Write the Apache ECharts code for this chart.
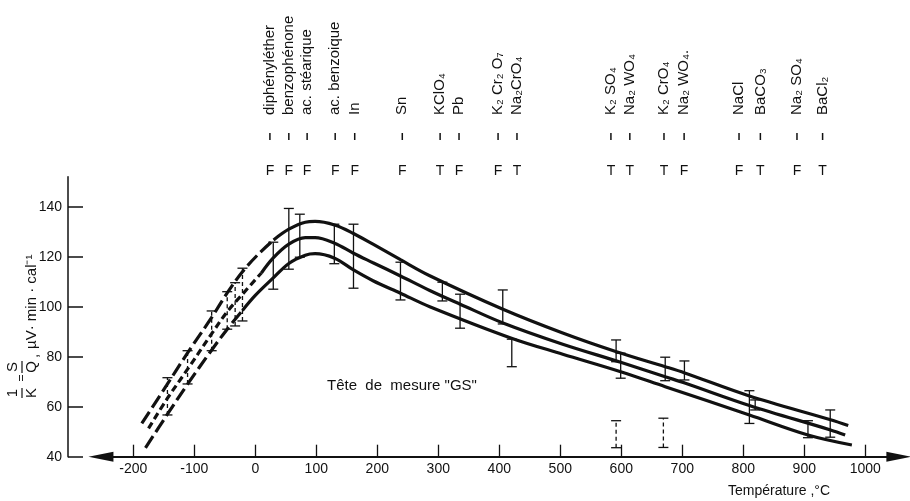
<!DOCTYPE html>
<html>
<head>
<meta charset="utf-8">
<script src="https://cdn.jsdelivr.net/npm/echarts@6/dist/echarts.min.js"></script>
<style>
    html, body { margin: 0; padding: 0; background: #fff; }
    #chart { width: 910px; height: 501px; }
</style>
</head>
<body>
<div id="chart"></div>
<script>
// axis ticks
const xTicks = [-200, -100, 0, 100, 200, 300, 400, 500, 600, 700, 800, 900, 1000];
const yTicks = [40, 60, 80, 100, 120, 140];

// the three calibration curves, dashed part (low temperature) and solid part
const upperDashed = [[-186, 53.3], [-145, 68.7], [-111, 81.5], [-72, 95.5], [-46, 105.5], [-21, 114], [5, 121], [30, 126.7]];
const upperSolid = [[30, 126.7], [55, 131], [82, 133.8], [98, 134.1], [130, 132.7], [161, 129.3], [193, 125], [238, 118.8],
    [286, 112.4], [406, 99], [504, 89.5], [592, 82], [672, 76], [704, 73.5], [810, 64.3], [943, 54.8], [972, 52.5]];
const middleDashed = [[-175, 51.3], [-145, 63], [-111, 75], [-72, 89], [-46, 98], [-21, 105], [10, 113.5]];
const middleSolid = [[10, 113.5], [29.5, 119.5], [55, 125], [82, 127.6], [98, 127.6], [130, 125.4], [161, 121.4], [193, 117.6],
    [238, 112.3], [286, 106.5], [336, 101], [406, 93.5], [504, 85], [599, 77.8], [672, 72], [704, 69.5],
    [810, 60.5], [943, 50.7], [967, 48.7]];
const lowerDashed = [[-180, 43.5], [-144, 57], [-111, 69], [-72, 82.5], [-46, 91], [-21, 98.5]];
const lowerSolid = [[-21, 98.5], [0, 104.5], [29.5, 111.5], [55, 117.3], [82, 120.6], [98, 121.2], [130, 119.4], [161, 114.7],
    [193, 110.4], [238, 105.4], [286, 100], [420, 87.4], [504, 81], [599, 74], [672, 68], [810, 56.7],
    [906, 48.7], [978, 44.7]];

// error bars [temperature, low, high]
const barsSolid = [[29.5, 107, 125.8], [55, 115, 139.3], [73, 119.8, 137], [129.6, 117.2, 133], [161, 107.4, 133],
    [238, 102.7, 117.8], [306.7, 102.3, 109.8], [335.7, 91.4, 105], [405.7, 93.1, 106.7], [420.5, 76, 87],
    [591.5, 78, 86.7], [599, 71.4, 81.4], [672, 70.4, 79.8], [703.5, 70.7, 78.3], [810, 53.3, 66.4],
    [819.5, 58.7, 62.7], [906, 47.6, 54.4], [942.5, 47.8, 58.7]];
const barsDashed = [[-144, 56.7, 71.6], [-111, 69.1, 82.4], [-71.5, 82.4, 98.3], [-46, 91, 106], [-33, 92.3, 109.6],
    [-21, 94.3, 115.4], [591.5, 43.6, 54.4], [669, 43.7, 55.4]];

// reference substances on top
const substNames = ['diphényléther', 'benzophénone', 'ac. stéarique', 'ac. benzoique', 'In', 'Sn', 'KClO₄', 'Pb',
    'K₂ Cr₂ O₇', 'Na₂CrO₄', 'K₂ SO₄', 'Na₂ WO₄', 'K₂ CrO₄', 'Na₂ WO₄.', 'NaCl', 'BaCO₃', 'Na₂ SO₄', 'BaCl₂'];
const substTemps = [24, 55, 85, 131, 163, 241, 303, 334, 398, 429, 583, 614, 670, 703, 793, 828, 888, 930];
const substCodes = ['F', 'F', 'F', 'F', 'F', 'F', 'T', 'F', 'F', 'T', 'T', 'T', 'T', 'F', 'F', 'T', 'F', 'T'];

// x axis arrow ends
const xArrow = [-253, 1055];

const FONT = '"Liberation Sans", sans-serif';
const INK = '#111';

function curve(data, dash) {
    return {
        type: 'line',
        data: data,
        smooth: 0.35,
        symbol: 'none',
        silent: true,
        lineStyle: { color: INK, width: 3.2, type: dash ? dash : 'solid' }
    };
}

function errorBars(data, dashed) {
    return {
        type: 'custom',
        data: data,
        silent: true,
        renderItem: function (params, api) {
            const lo = api.coord([api.value(0), api.value(1)]);
            const hi = api.coord([api.value(0), api.value(2)]);
            const st = { stroke: INK, lineWidth: 1.3, lineDash: dashed ? [4, 3] : null };
            const cap = { stroke: INK, lineWidth: 1.3 };
            return {
                type: 'group',
                children: [
                    { type: 'line', shape: { x1: lo[0], y1: lo[1], x2: hi[0], y2: hi[1] }, style: st },
                    { type: 'line', shape: { x1: lo[0] - 5, y1: lo[1], x2: lo[0] + 5, y2: lo[1] }, style: cap },
                    { type: 'line', shape: { x1: hi[0] - 5, y1: hi[1], x2: hi[0] + 5, y2: hi[1] }, style: cap }
                ]
            };
        }
    };
}

// names, dashes and F/T letters above the plot
const topLabels = {
    type: 'custom',
    data: substTemps.map(function (t) { return [t, 100]; }),
    silent: true,
    clip: false,
    renderItem: function (params, api) {
        const x = api.coord([api.value(0), 100])[0];
        const i = params.dataIndex;
        return {
            type: 'group',
            children: [
                { type: 'line', shape: { x1: x, y1: 133, x2: x, y2: 140 }, style: { stroke: INK, lineWidth: 1.5 } },
                {
                    type: 'text', x: x, y: 115, rotation: Math.PI / 2,
                    style: { text: substNames[i], fill: INK, font: '15px ' + FONT, textAlign: 'left', textVerticalAlign: 'middle' }
                },
                {
                    type: 'text', x: x, y: 171,
                    style: { text: substCodes[i], fill: INK, font: '14px ' + FONT, textAlign: 'center', textVerticalAlign: 'middle' }
                }
            ]
        };
    }
};

const axisLineSeries = {
    type: 'line',
    data: [],
    silent: true,
    markLine: {
        silent: true,
        symbol: ['triangle', 'triangle'],
        symbolSize: [10, 25],
        label: { show: false },
        lineStyle: { color: INK, width: 2, type: 'solid' },
        emphasis: { disabled: true },
        data: [[{ coord: [xArrow[0], 40] }, { coord: [xArrow[1], 40] }]]
    }
};

// y axis title drawn as a rotated group so the fractions can be stacked
const yTitle = {
    type: 'group',
    x: 22,
    y: 393,
    rotation: Math.PI / 2,
    children: [
        { type: 'text', x: 0, y: -9, style: { text: '1', font: '15px ' + FONT, fill: INK, textAlign: 'center', textVerticalAlign: 'middle' } },
        { type: 'line', shape: { x1: -5, y1: 0, x2: 5, y2: 0 }, style: { stroke: INK, lineWidth: 1.2 } },
        { type: 'text', x: 0, y: 10, style: { text: 'K', font: '15px ' + FONT, fill: INK, textAlign: 'center', textVerticalAlign: 'middle' } },
        { type: 'text', x: 15, y: 0, style: { text: '=', font: '12px ' + FONT, fill: INK, textAlign: 'center', textVerticalAlign: 'middle' } },
        { type: 'text', x: 26, y: -9, style: { text: 'S', font: '15px ' + FONT, fill: INK, textAlign: 'center', textVerticalAlign: 'middle' } },
        { type: 'line', shape: { x1: 20, y1: 0, x2: 32, y2: 0 }, style: { stroke: INK, lineWidth: 1.2 } },
        { type: 'text', x: 26, y: 10, style: { text: 'Q', font: '15px ' + FONT, fill: INK, textAlign: 'center', textVerticalAlign: 'middle' } },
        { type: 'text', x: 37, y: 12, style: { text: ',', font: '15px ' + FONT, fill: INK, textAlign: 'center', textVerticalAlign: 'middle' } },
        { type: 'text', x: 44, y: 10, style: { text: 'µV· min · cal⁻¹', font: '15px ' + FONT, fill: INK, textAlign: 'left', textVerticalAlign: 'middle' } }
    ]
};

const chart = echarts.init(document.getElementById('chart'));
chart.setOption({
    animation: false,
    backgroundColor: '#fff',
    grid: { left: 68, right: 2, top: 176.7, bottom: 44.3 },
    xAxis: {
        type: 'value',
        min: -307,
        max: 1070,
        splitLine: { show: false },
        axisLine: { show: false },
        axisTick: { show: true, inside: true, length: 12, customValues: xTicks, lineStyle: { color: INK, width: 1.3 } },
        axisLabel: {
            customValues: xTicks, color: INK, fontFamily: 'Liberation Sans', fontSize: 14, margin: 5,
            formatter: function (v) { return String(v); }
        }
    },
    yAxis: {
        type: 'value',
        min: 40,
        max: 152,
        splitLine: { show: false },
        axisLine: { show: true, onZero: false, lineStyle: { color: INK, width: 1.5 } },
        axisTick: { show: true, inside: true, length: 15, customValues: yTicks, lineStyle: { color: INK, width: 1.5 } },
        axisLabel: { customValues: yTicks, color: INK, fontFamily: 'Liberation Sans', fontSize: 14, margin: 6 }
    },
    graphic: [
        yTitle,
        { type: 'text', left: 327, top: 378, style: { text: 'Tête  de  mesure "GS"', font: '15px ' + FONT, fill: INK } },
        { type: 'text', left: 728, top: 484, style: { text: 'Température ,°C', font: '14px ' + FONT, fill: INK } }
    ],
    series: [
        curve(upperDashed, [14, 5]),
        curve(upperSolid),
        curve(middleDashed, [7, 4]),
        curve(middleSolid),
        curve(lowerDashed, [14, 5]),
        curve(lowerSolid),
        errorBars(barsSolid, false),
        errorBars(barsDashed, true),
        topLabels,
        axisLineSeries
    ]
});
</script>
</body>
</html>
